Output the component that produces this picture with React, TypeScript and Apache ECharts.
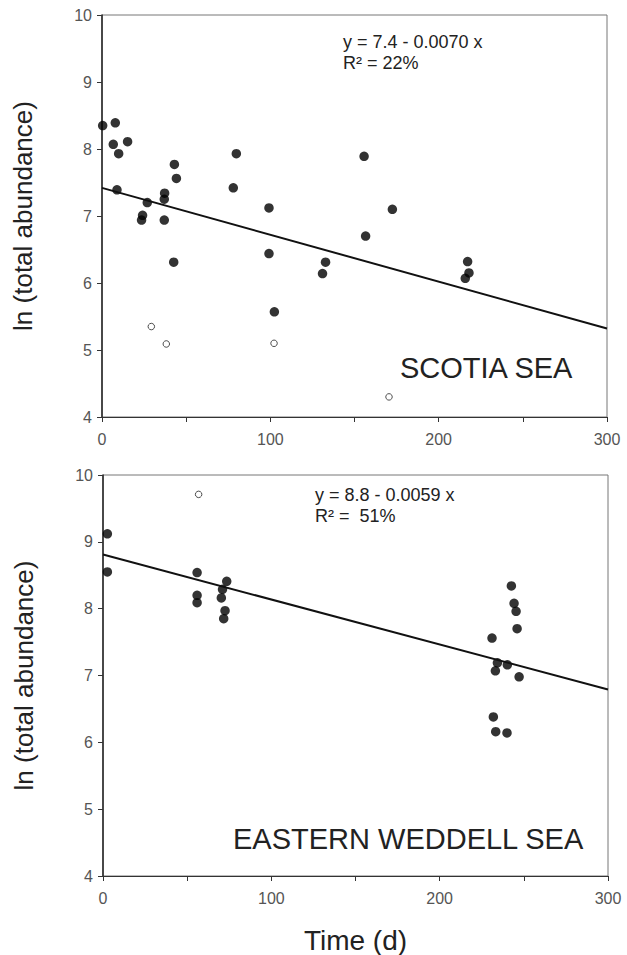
import React, { useEffect, useRef } from "react";
import * as echarts from "echarts";

// Scotia Sea (top panel)
const scotiaFilled: [number, number][] = [
  [0.4, 8.35], [7.9, 8.39], [6.7, 8.07], [15.2, 8.11], [9.9, 7.93], [8.9, 7.39],
  [43, 7.77], [44.2, 7.56], [79.8, 7.93], [78, 7.42], [99.2, 7.12], [155.7, 7.89],
  [26.9, 7.2], [37.2, 7.34], [37, 7.25], [24.1, 7.01], [23.5, 6.94], [37, 6.94],
  [42.6, 6.31], [99.2, 6.44], [132.8, 6.31], [131, 6.14], [156.6, 6.7], [102.4, 5.57],
  [172.5, 7.1], [217.2, 6.32], [218, 6.15], [215.8, 6.07],
];
const scotiaOpen: [number, number][] = [
  [29.3, 5.35], [38.2, 5.09], [102.2, 5.1], [170.5, 4.3],
];
const scotiaFit: [number, number][] = [[0, 7.42], [300, 5.32]];

// Eastern Weddell Sea (bottom panel)
const weddellFilled: [number, number][] = [
  [2.6, 9.12], [2.6, 8.55], [55.9, 8.54], [55.9, 8.2], [55.9, 8.09], [73.5, 8.41],
  [71, 8.29], [70.3, 8.16], [72.5, 7.97], [71.7, 7.85],
  [242.6, 8.34], [244.2, 8.08], [245.4, 7.96], [246, 7.7], [231.1, 7.56], [234.3, 7.19],
  [240.2, 7.16], [233.1, 7.07], [247.2, 6.98], [231.9, 6.38], [233.3, 6.16], [240, 6.14],
];
const weddellOpen: [number, number][] = [[56.8, 9.71]];
const weddellFit: [number, number][] = [[0, 8.81], [300, 6.79]];

const xTicks = { min: 0, max: 300, interval: 50 };
const yTicks = { min: 4, max: 10, interval: 1 };

const FONT = "Liberation Sans, Arial, sans-serif";

export default function App() {
  const ref = useRef<HTMLDivElement>(null);
  useEffect(() => {
    if (!ref.current) return;
    const chart = echarts.init(ref.current, null, { renderer: "svg" });
    const xAxisBase = (gridIndex: number, name: string) => ({
      type: "value" as const,
      gridIndex,
      min: xTicks.min,
      max: xTicks.max,
      interval: xTicks.interval,
      name,
      nameLocation: "middle" as const,
      nameGap: 50,
      nameTextStyle: { fontSize: 28, color: "#222", fontFamily: FONT },
      axisLine: { lineStyle: { color: "#333", width: 1.2 } },
      axisTick: { length: 5, lineStyle: { color: "#333" } },
      axisLabel: {
        fontSize: 16,
        color: "#555",
        fontFamily: FONT,
        margin: 14,
        formatter: (v: number) => (v % 100 === 0 ? String(v) : ""),
      },
      splitLine: { show: false },
    });
    const yAxisBase = (gridIndex: number) => ({
      type: "value" as const,
      gridIndex,
      min: yTicks.min,
      max: yTicks.max,
      interval: yTicks.interval,
      name: "ln (total abundance)",
      nameLocation: "middle" as const,
      nameRotate: 90,
      nameGap: 66,
      nameTextStyle: { fontSize: 26, color: "#222", fontFamily: FONT },
      axisLine: { lineStyle: { color: "#222", width: 1.5 } },
      axisTick: { length: 5, lineStyle: { color: "#333" } },
      axisLabel: { fontSize: 16, color: "#555", fontFamily: FONT, margin: 10 },
      splitLine: { show: false },
    });
    const filled = (i: number, data: [number, number][]) => ({
      type: "scatter" as const,
      xAxisIndex: i,
      yAxisIndex: i,
      data,
      symbol: "circle",
      symbolSize: 9.5,
      itemStyle: { color: "#000" },
    });
    const open = (i: number, data: [number, number][]) => ({
      type: "scatter" as const,
      xAxisIndex: i,
      yAxisIndex: i,
      data,
      symbol: "circle",
      symbolSize: 6.5,
      itemStyle: { color: "#fff", borderColor: "#222", borderWidth: 1 },
    });
    const fit = (i: number, data: [number, number][]) => ({
      type: "line" as const,
      xAxisIndex: i,
      yAxisIndex: i,
      data,
      symbol: "none",
      lineStyle: { color: "#111", width: 2 },
    });
    const txt = (x: number, y: number, text: string, size: number) => ({
      type: "text" as const,
      x,
      y,
      style: { text, fontSize: size, fill: "#222", fontFamily: FONT, verticalAlign: "middle" },
    });
    chart.setOption({
      animation: false,
      backgroundColor: "#fff",
      grid: [
        { left: 102, top: 15, width: 505, height: 402, show: true, borderColor: "#777", borderWidth: 1 },
        { left: 103, top: 475, width: 505, height: 403, show: true, borderColor: "#777", borderWidth: 1 },
      ],
      xAxis: [xAxisBase(0, ""), xAxisBase(1, "Time (d)")],
      yAxis: [yAxisBase(0), yAxisBase(1)],
      series: [
        fit(0, scotiaFit),
        filled(0, scotiaFilled),
        open(0, scotiaOpen),
        fit(1, weddellFit),
        filled(1, weddellFilled),
        open(1, weddellOpen),
      ],
      graphic: [
        txt(343, 42, "y = 7.4 - 0.0070 x", 18),
        txt(343, 63, "R² = 22%", 18),
        txt(400, 368, "SCOTIA SEA", 29),
        txt(315, 495, "y = 8.8 - 0.0059 x", 18),
        txt(315, 516, "R² =  51%", 18),
        txt(233, 839, "EASTERN WEDDELL SEA", 29),
      ],
    });
    return () => chart.dispose();
  }, []);
  return (
    <div
      ref={ref}
      style={{ position: "absolute", left: 0, top: 0, width: 627, height: 955 }}
    />
  );
}
